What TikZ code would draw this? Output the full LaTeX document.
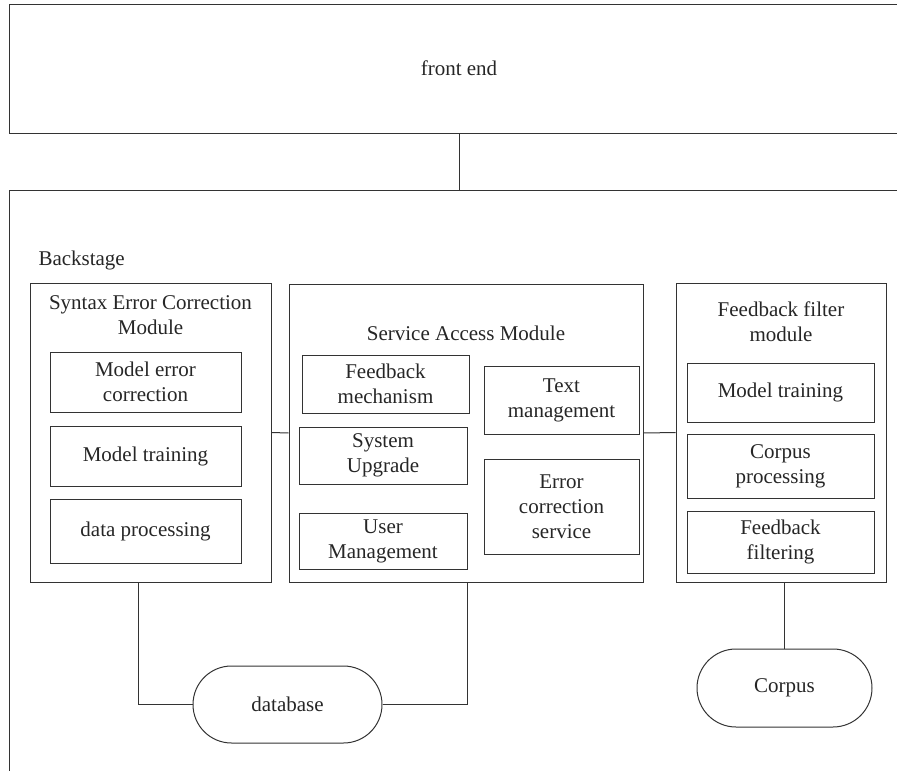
\documentclass[tikz,border=0pt]{standalone}
\usepackage{fontspec}
\setmainfont{Liberation Serif}
\usetikzlibrary{shapes.misc}
\begin{document}
\begin{tikzpicture}[x=1pt,y=-1pt,line width=1pt,
  every node/.style={font=\fontsize{21}{25}\selectfont, text=black!85},
  box/.style={draw=black!80, inner sep=0pt, align=center},
  lbl/.style={inner sep=0pt, align=center},
  term/.style={draw=black!80, rounded rectangle, inner sep=0pt},
  conn/.style={draw=black!80}]
\useasboundingbox (0,0) rectangle (897,771);
\clip (0,0) rectangle (897,771);
% front end and backstage
\node[box, minimum width=900pt, minimum height=129pt] (front) at (459,68.5) {front end};
\node[box, minimum width=900pt, minimum height=620pt] (back) at (459,500) {};
\node[lbl, anchor=west] (backlbl) at (38,260) {Backstage};
% syntax error correction module
\node[box, minimum width=241pt, minimum height=299pt] (syntax) at (150.5,432.5) {};
\node[lbl] (syntaxt) at (150.5,315.5) {Syntax Error Correction\\Module};
\node[box, minimum width=191pt, minimum height=60pt] (sec1) at (145.5,382) {Model error\\correction};
\node[box, minimum width=191pt, minimum height=60pt] (sec2) at (145.5,456) {Model training};
\node[box, minimum width=191pt, minimum height=64pt] (sec3) at (145.5,531) {data processing};
% service access module
\node[box, minimum width=354pt, minimum height=298pt] (service) at (466,433) {};
\node[lbl] (servicet) at (466,333) {Service Access Module};
\node[box, minimum width=167pt, minimum height=58pt] (fm) at (385.5,384) {Feedback\\mechanism};
\node[box, minimum width=168pt, minimum height=57pt] (su) at (383,455.5) {System\\Upgrade};
\node[box, minimum width=168pt, minimum height=56pt] (um) at (383,541) {User\\Management};
\node[box, minimum width=155pt, minimum height=68pt] (tm) at (561.5,400) {Text\\management};
\node[box, minimum width=155pt, minimum height=95pt] (ecs) at (561.5,506.5) {Error\\correction\\service};
% feedback filter module
\node[box, minimum width=210pt, minimum height=299pt] (feedback) at (781,432.5) {};
\node[lbl] (feedbackt) at (781,322) {Feedback filter\\module};
\node[box, minimum width=187pt, minimum height=59pt] (mt2) at (780.5,392.5) {Model training};
\node[box, minimum width=187pt, minimum height=64pt] (cp) at (780.5,466) {Corpus\\processing};
\node[box, minimum width=187pt, minimum height=62pt] (ff) at (780.5,542) {Feedback\\filtering};
% storage
\node[term, minimum width=189pt, minimum height=77pt] (db) at (287.5,704.5) {database};
\node[term, minimum width=175pt, minimum height=78pt] (corpus) at (784.5,688) {Corpus};
% connectors
\draw[conn] (front.south) -- (back.north);
\draw[conn] (syntax.east) -- (service.west);
\draw[conn] (service.east) -- (feedback.west);
\draw[conn] ([xshift=-12.5pt]syntax.south) |- (db.west);
\draw[conn] (db.east) -| ([xshift=1pt]service.south);
\draw[conn] (corpus.north) -- (corpus.north |- feedback.south);
\end{tikzpicture}
\end{document}
